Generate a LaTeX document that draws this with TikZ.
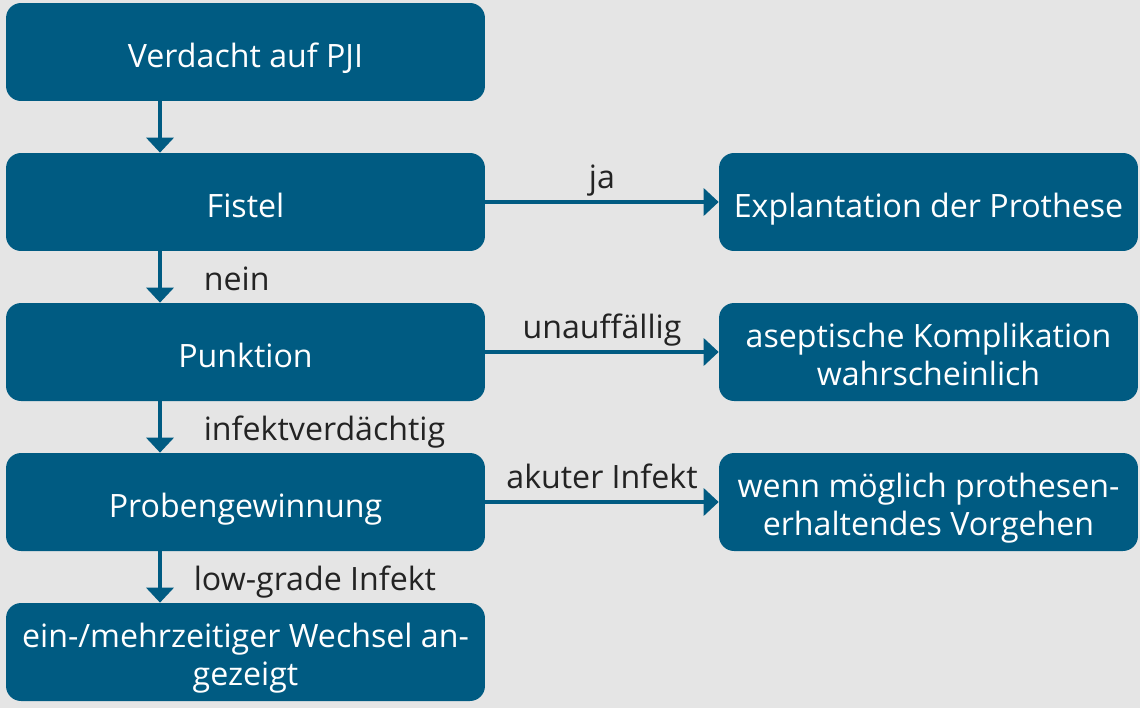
\documentclass[tikz,border=0pt]{standalone}
\usepackage{fontspec}
\setmainfont{Open Sans}
\usetikzlibrary{arrows.meta, positioning}
\definecolor{pjiblue}{RGB}{0, 91, 130}
\definecolor{pjibg}{RGB}{229, 229, 229}
\definecolor{pjitext}{RGB}{35, 35, 35}

\tikzset{
    box/.style={rectangle, rounded corners=0.3cm, fill=pjiblue, text=white,
        minimum width=9.58cm, minimum height=1.96cm, align=center, inner sep=0pt,
        font=\fontsize{18.3}{21.8}\selectfont,
        execute at begin node={\rule{0pt}{1.2em}},
        execute at end node={\rule[-0.25em]{0pt}{0.25em}}},
    twobox/.style={box, execute at begin node={\rule{0pt}{2.34em}}},
    rbox/.style={box, minimum width=8.38cm},
    rtwobox/.style={twobox, minimum width=8.38cm},
    arr/.style={draw=pjiblue, line width=2.1pt, -{Triangle[length=0.3cm, width=0.54cm]}},
    lbl/.style={text=pjitext, inner sep=0pt, font=\fontsize{18.3}{21.5}\selectfont},
}

\begin{document}
\begin{tikzpicture}[x=0.02cm, y=-0.02cm]
    % background and page size
    \fill[pjibg] (0,0) rectangle (1140,708);
    \useasboundingbox (0,0) rectangle (1140,708);

    % left column
    \node[box] (verdacht) at (245.5,52) {Verdacht auf PJI};
    \node[box] (fistel) at (245.5,202) {Fistel};
    \node[box] (punktion) at (245.5,352) {Punktion};
    \node[box] (proben) at (245.5,502) {Probengewinnung};
    \node[twobox] (wechsel) at (245.5,652) {ein-/mehrzeitiger Wechsel an-\\gezeigt};

    % right column
    \node[rbox] (explant) at (928.5,202) {Explantation der Prothese};
    \node[rtwobox] (aseptisch) at (928.5,352) {aseptische Komplikation\\wahrscheinlich};
    \node[rtwobox] (erhalt) at (928.5,502) {wenn möglich prothesen-\\erhaltendes Vorgehen};

    % downward path
    \draw[arr] ([xshift=-1.71cm]verdacht.south) -- ([xshift=-1.71cm]fistel.north);
    \draw[arr] ([xshift=-1.71cm]fistel.south) --
        node[lbl, anchor=base west, xshift=0.84cm, yshift=-0.26cm] (nein) {nein}
        ([xshift=-1.71cm]punktion.north);
    \draw[arr] ([xshift=-1.71cm]punktion.south) --
        node[lbl, anchor=base west, xshift=0.84cm, yshift=-0.26cm] (verdaechtig) {infektverdächtig}
        ([xshift=-1.71cm]proben.north);
    \draw[arr] ([xshift=-1.71cm]proben.south) --
        node[lbl, anchor=base west, xshift=0.64cm, yshift=-0.26cm] (lowgrade) {low-grade Infekt}
        ([xshift=-1.71cm]wechsel.north);

    % branches to the right
    \draw[arr] (fistel) -- node[lbl, anchor=base, yshift=0.28cm] (ja) {ja} (explant);
    \draw[arr] (punktion) -- node[lbl, anchor=base, yshift=0.28cm] (unauff) {unauffällig} (aseptisch);
    \draw[arr] (proben) -- node[lbl, anchor=base, yshift=0.28cm] (akut) {akuter Infekt} (erhalt);
\end{tikzpicture}
\end{document}
